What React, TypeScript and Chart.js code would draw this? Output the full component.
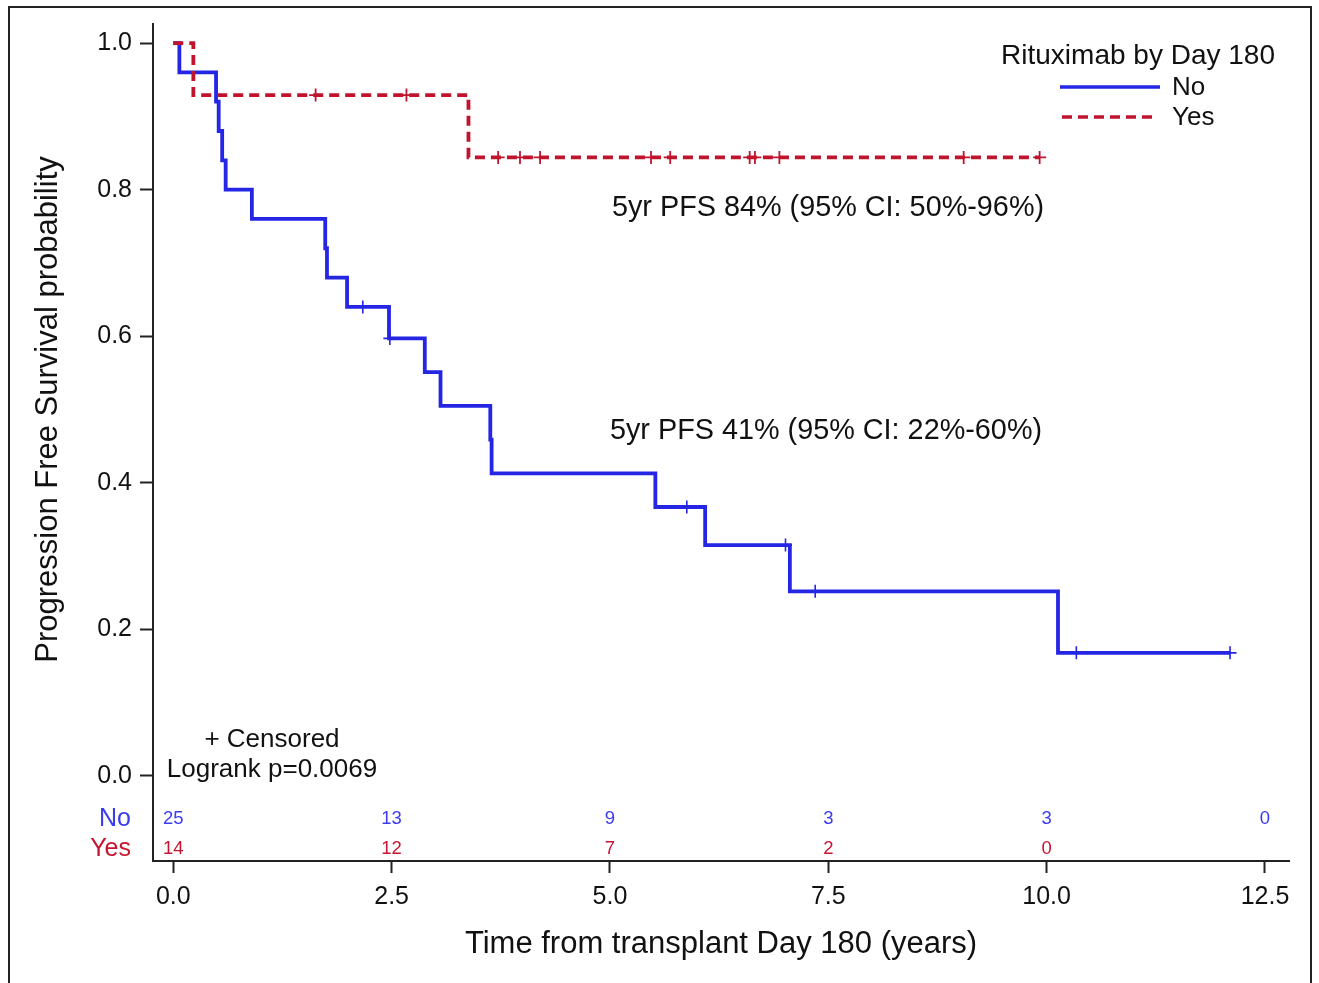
import React, { useEffect, useRef } from "react";
import { Chart, registerables } from "chart.js";

Chart.register(...registerables);

const FONT = '"Liberation Sans", Arial, Helvetica, sans-serif';
const BLUE = "#2525E4";
const RED = "#C0142E";
const BLUE_TEXT = "#3B3BF2";
const RED_TEXT = "#C8142E";
const INK = "#111";

// Kaplan-Meier step curve, group "No"
const noTimes = [0, 0.07, 0.49, 0.52, 0.56, 0.6, 0.9, 1.74, 1.76, 1.99, 2.47, 2.88, 3.06, 3.63, 3.645, 5.52, 6.09, 7.06, 10.13, 12.1];
const noSurv = [1, 0.96, 0.92, 0.88, 0.84, 0.8, 0.76, 0.72, 0.68, 0.64, 0.597, 0.551, 0.505, 0.459, 0.413, 0.367, 0.315, 0.252, 0.168, 0.168];
const noCensorTimes = [2.17, 2.48, 5.88, 7.01, 7.35, 10.34, 12.1];
const noCensorSurv = [0.64, 0.597, 0.367, 0.315, 0.252, 0.168, 0.168];

// Kaplan-Meier step curve, group "Yes"
const yesTimes = [0, 0.23, 3.38, 9.92];
const yesSurv = [1, 0.929, 0.844, 0.844];
const yesCensorTimes = [1.63, 2.67, 3.72, 3.97, 4.2, 5.47, 5.69, 6.6, 6.66, 6.94, 9.05, 9.92];
const yesCensorSurv = [0.929, 0.929, 0.844, 0.844, 0.844, 0.844, 0.844, 0.844, 0.844, 0.844, 0.844, 0.844];

const xTicks = [0, 2.5, 5, 7.5, 10, 12.5];
const yTicks = [0, 0.2, 0.4, 0.6, 0.8, 1.0];

const atRiskTimes = [0, 2.5, 5, 7.5, 10, 12.5];
const atRiskNo = [25, 13, 9, 3, 3, 0];
const atRiskYes: (number | null)[] = [14, 12, 7, 2, 0, null];

const groupLabels = ["No", "Yes"];
const legendTitle = "Rituximab by Day 180";
const pfsNoText = "5yr PFS 41% (95% CI: 22%-60%)";
const pfsYesText = "5yr PFS 84% (95% CI: 50%-96%)";
const censoredText = "+ Censored";
const logrankText = "Logrank p=0.0069";
const xTitle = "Time from transplant Day 180 (years)";
const yTitle = "Progression Free Survival probability";

const pts = (xs: number[], ys: number[]) => xs.map((x, i) => ({ x, y: ys[i] }));

const overlayPlugin = {
  id: "kmOverlay",
  afterDraw(chart: any) {
    const { ctx } = chart;
    const xs = chart.scales.x;
    const ys = chart.scales.y;
    ctx.save();

    // y-axis title centred on the 0..1 range
    ctx.save();
    ctx.translate(48, (ys.getPixelForValue(0) + ys.getPixelForValue(1)) / 2);
    ctx.rotate(-Math.PI / 2);
    ctx.font = `31px ${FONT}`;
    ctx.fillStyle = INK;
    ctx.textAlign = "center";
    ctx.textBaseline = "middle";
    ctx.fillText(yTitle, 0, 0);
    ctx.restore();

    // legend
    ctx.fillStyle = INK;
    ctx.textBaseline = "middle";
    ctx.textAlign = "center";
    ctx.font = `28px ${FONT}`;
    ctx.fillText(legendTitle, 1138, 56);
    ctx.lineCap = "butt";
    ctx.strokeStyle = BLUE;
    ctx.lineWidth = 3.5;
    ctx.setLineDash([]);
    ctx.beginPath();
    ctx.moveTo(1060, 87);
    ctx.lineTo(1160, 87);
    ctx.stroke();
    ctx.strokeStyle = RED;
    ctx.setLineDash([10, 6]);
    ctx.beginPath();
    ctx.moveTo(1062, 117);
    ctx.lineTo(1156, 117);
    ctx.stroke();
    ctx.setLineDash([]);
    ctx.textAlign = "left";
    ctx.font = `26px ${FONT}`;
    ctx.fillText(groupLabels[0], 1172, 88);
    ctx.fillText(groupLabels[1], 1172, 118);

    // 5-year PFS annotations
    ctx.font = `28.8px ${FONT}`;
    ctx.textAlign = "left";
    const x5 = xs.getPixelForValue(5) + 2;
    ctx.fillText(pfsYesText, x5, 208);
    ctx.fillText(pfsNoText, x5 - 2, 431);

    // censored / logrank notes
    ctx.font = `26px ${FONT}`;
    ctx.textAlign = "center";
    ctx.fillText(censoredText, 272, 740);
    ctx.fillText(logrankText, 272, 770);

    // at-risk table
    const y0 = ys.getPixelForValue(0);
    const rowNo = y0 + 43;
    const rowYes = y0 + 73;
    ctx.textAlign = "right";
    ctx.font = `25px ${FONT}`;
    ctx.fillStyle = BLUE_TEXT;
    ctx.fillText(groupLabels[0], 131, rowNo);
    ctx.fillStyle = RED_TEXT;
    ctx.fillText(groupLabels[1], 131, rowYes);
    ctx.textAlign = "center";
    ctx.font = `18.5px ${FONT}`;
    atRiskTimes.forEach((t, i) => {
      const px = xs.getPixelForValue(t);
      ctx.fillStyle = BLUE_TEXT;
      ctx.fillText(String(atRiskNo[i]), px, rowNo);
      const v = atRiskYes[i];
      if (v !== null) {
        ctx.fillStyle = RED_TEXT;
        ctx.fillText(String(v), px, rowYes);
      }
    });

    ctx.restore();
  },
};

export default function App() {
  const canvasRef = useRef<HTMLCanvasElement | null>(null);

  useEffect(() => {
    const canvas = canvasRef.current;
    if (!canvas) return;
    const chart = new Chart(canvas, {
      type: "line",
      data: {
        datasets: [
          {
            label: "Yes",
            data: pts(yesTimes, yesSurv),
            stepped: "before",
            borderColor: RED,
            borderWidth: 3.8,
            borderDash: [10, 6],
            borderCapStyle: "butt",
            pointRadius: 0,
            fill: false,
            order: 0,
          },
          {
            label: "Yes censored",
            data: pts(yesCensorTimes, yesCensorSurv),
            showLine: false,
            pointStyle: "cross",
            pointRadius: 6.5,
            pointBorderWidth: 1.8,
            pointBorderColor: RED,
            pointBackgroundColor: RED,
            order: 0,
          },
          {
            label: "No",
            data: pts(noTimes, noSurv),
            stepped: "before",
            borderColor: BLUE,
            borderWidth: 3.8,
            pointRadius: 0,
            fill: false,
            order: 1,
          },
          {
            label: "No censored",
            data: pts(noCensorTimes, noCensorSurv),
            showLine: false,
            pointStyle: "cross",
            pointRadius: 6.5,
            pointBorderWidth: 1.6,
            pointBorderColor: BLUE,
            pointBackgroundColor: BLUE,
            order: 1,
          },
        ],
      } as any,
      options: {
        responsive: false,
        animation: false,
        events: [],
        layout: { padding: { top: 24, right: 30, left: 0, bottom: 0 } },
        plugins: {
          legend: { display: false },
          tooltip: { enabled: false },
          title: { display: false },
        },
        scales: {
          x: {
            type: "linear",
            min: -0.232,
            max: 12.775,
            afterBuildTicks: (s: any) => {
              s.ticks = xTicks.map((v) => ({ value: v }));
            },
            afterFit: (s: any) => {
              s.height = 122;
            },
            ticks: {
              callback: (v: any) => Number(v).toFixed(1),
              font: { size: 25, family: FONT },
              color: INK,
              padding: 9,
              maxRotation: 0,
              autoSkip: false,
            },
            grid: {
              drawOnChartArea: false,
              drawTicks: true,
              tickLength: 12,
              tickWidth: 2,
              tickColor: "#222",
            },
            border: { display: true, color: "#222", width: 2 },
            title: {
              display: true,
              text: xTitle,
              font: { size: 31, family: FONT },
              color: INK,
              padding: { top: 0, bottom: 20 },
            },
          },
          y: {
            type: "linear",
            min: -0.116,
            max: 1.026,
            afterBuildTicks: (s: any) => {
              s.ticks = yTicks.map((v) => ({ value: v }));
            },
            afterFit: (s: any) => {
              s.width = 153;
            },
            ticks: {
              callback: (v: any) => Number(v).toFixed(1),
              font: { size: 25, family: FONT },
              color: INK,
              padding: 8,
              autoSkip: false,
            },
            grid: {
              drawOnChartArea: false,
              drawTicks: true,
              tickLength: 13,
              tickWidth: 2,
              tickColor: "#222",
            },
            border: { display: true, color: "#222", width: 2 },
            title: { display: false },
          },
        },
      } as any,
      plugins: [overlayPlugin],
    });
    return () => chart.destroy();
  }, []);

  return (
    <div
      style={{
        position: "absolute",
        left: 0,
        top: 0,
        width: 1319,
        height: 983,
        overflow: "hidden",
        background: "#fff",
      }}
    >
      <div
        style={{
          position: "absolute",
          left: 8,
          top: 6,
          width: 1304,
          height: 990,
          border: "2px solid #222",
          boxSizing: "border-box",
        }}
      />
      <canvas
        ref={canvasRef}
        width={1319}
        height={983}
        style={{ position: "absolute", left: 0, top: 0, width: 1319, height: 983 }}
      />
    </div>
  );
}
